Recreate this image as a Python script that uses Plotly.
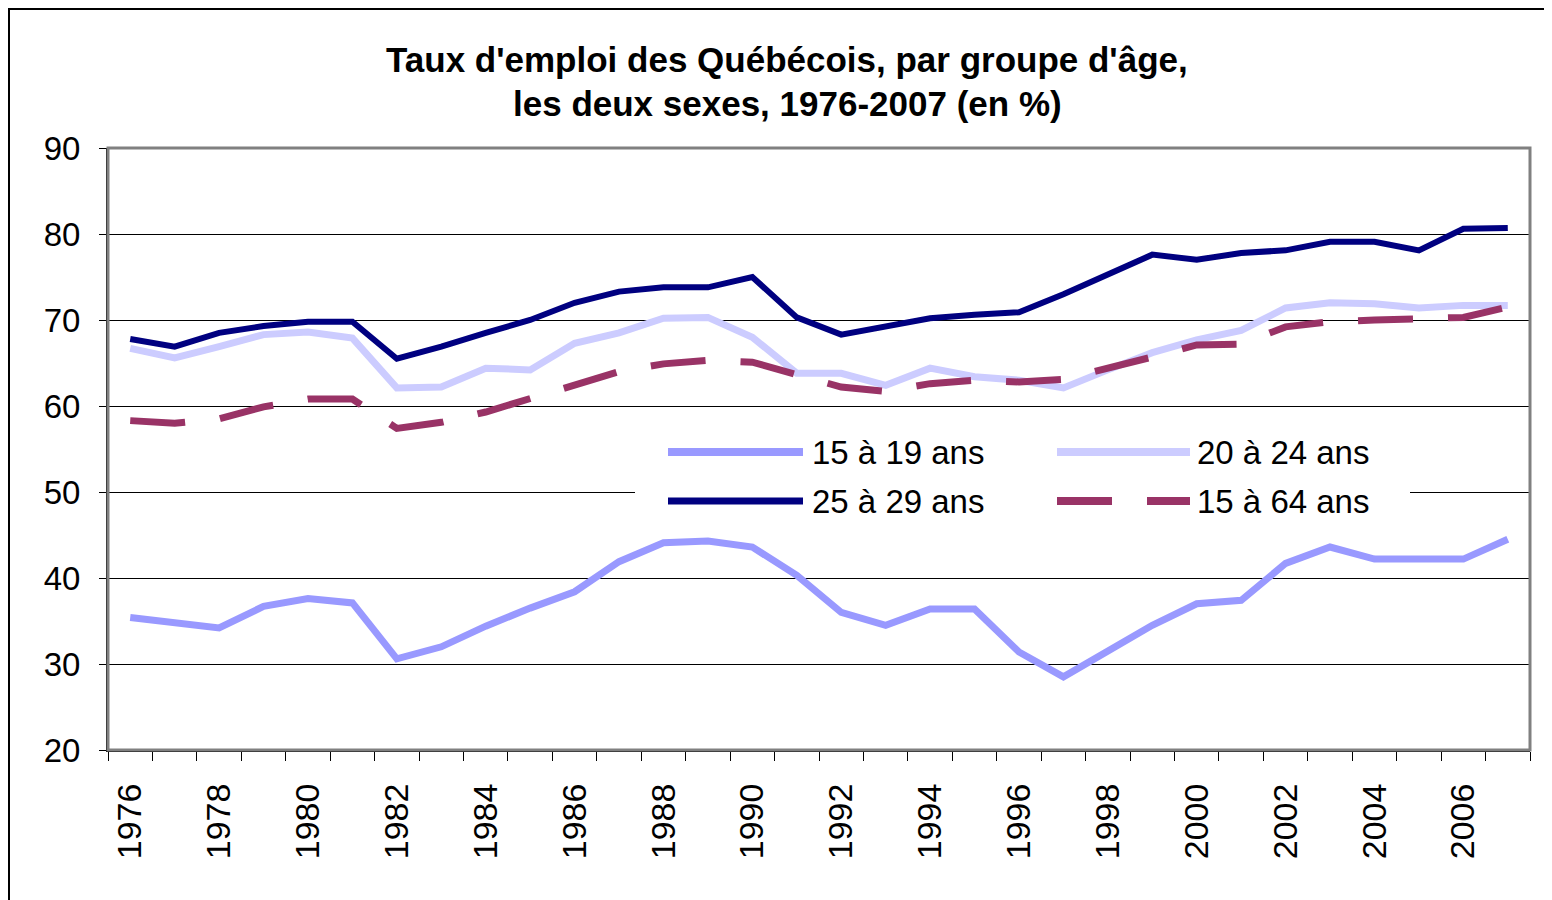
import plotly.graph_objects as go

years = list(range(1976, 2008))

age_15_19 = [35.4, 34.7, 34.2, 36.7, 37.6, 37.1, 30.6, 32.0, 34.4, 36.5, 38.4, 41.9,
             44.1, 44.3, 43.6, 40.3, 36.0, 34.5, 36.4, 36.4, 31.4, 28.5, 31.4, 34.5,
             37.0, 37.4, 41.7, 43.6, 42.2, 42.2, 42.2, 44.5]
age_20_24 = [66.7, 65.6, 66.9, 68.3, 68.6, 67.9, 62.1, 62.2, 64.4, 64.2, 67.3, 68.5,
             70.2, 70.3, 68.0, 63.8, 63.8, 62.4, 64.4, 63.4, 63.0, 62.1, 64.2, 66.2,
             67.7, 68.8, 71.4, 72.0, 71.9, 71.4, 71.7, 71.7]
age_25_29 = [67.8, 66.9, 68.5, 69.3, 69.8, 69.8, 65.5, 66.9, 68.5, 70.0, 72.0, 73.3,
             73.8, 73.8, 75.0, 70.3, 68.3, 69.2, 70.2, 70.6, 70.9, 73.0, 75.3, 77.6,
             77.0, 77.8, 78.1, 79.1, 79.1, 78.1, 80.6, 80.7]
age_15_64 = [58.3, 58.0, 58.5, 59.9, 60.8, 60.8, 57.4, 58.1, 59.3, 60.9, 62.4, 64.0,
             64.9, 65.3, 65.1, 63.6, 62.2, 61.7, 62.6, 63.0, 62.8, 63.1, 64.3, 65.7,
             67.1, 67.2, 69.2, 69.8, 70.0, 70.1, 70.3, 71.5]

series_names = ["15 à 19 ans", "20 à 24 ans", "25 à 29 ans", "15 à 64 ans"]
series_colors = ["#9999FF", "#CCCCFF", "#000080", "#993366"]
year_labels = [str(y) for y in range(1976, 2008, 2)]

title_lines = ["Taux d'emploi des Québécois, par groupe d'âge,",
               "les deux sexes, 1976-2007 (en %)"]

OFF = 8  # page body margin
W, H = 1552 - OFF, 900 - OFF
L, R, T, B = 108 - OFF, 1530 - OFF, 148 - OFF, 750 - OFF


def px(x):
    return (x - OFF - L) / (R - L)


def py(y):
    return (B - (y - OFF)) / (B - T)


FONT = "Liberation Sans, Arial, sans-serif"

fig = go.Figure()
data = [age_15_19, age_20_24, age_25_29, age_15_64]
widths = [7, 7, 6, 7]
dashes = ["solid", "solid", "solid", "55px,35px"]
for name, vals, col, w, d in zip(series_names, data, series_colors, widths, dashes):
    fig.add_trace(go.Scatter(
        x=years, y=vals, mode="lines", name=name,
        line=dict(color=col, width=w, dash=d),
        showlegend=False, hoverinfo="x+y+name"))

shapes = []
# outer chart frame (left and top visible)
shapes.append(dict(type="rect", xref="paper", yref="paper",
                   x0=px(9), x1=px(1570), y0=py(915), y1=py(9),
                   line=dict(color="black", width=2), fillcolor="rgba(0,0,0,0)",
                   layer="below"))
# plot area border (gray)
shapes.append(dict(type="rect", xref="paper", yref="paper",
                   x0=0, x1=1, y0=0, y1=1,
                   line=dict(color="#808080", width=3), fillcolor="rgba(0,0,0,0)",
                   layer="above"))
# legend background
shapes.append(dict(type="rect", xref="paper", yref="paper",
                   x0=px(635), x1=px(1410), y0=py(530), y1=py(422),
                   line=dict(width=0), fillcolor="white", layer="above"))

annotations = []
leg_pos = [(668, 803, 452, 810), (1057, 1190, 452, 1195),
           (668, 803, 501, 810), (1057, 1190, 501, 1195)]
for (x0, x1, yy, tx), name, col, w, d in zip(leg_pos, series_names, series_colors, widths, dashes):
    shapes.append(dict(type="line", xref="paper", yref="paper",
                       x0=px(x0), x1=px(x1), y0=py(yy), y1=py(yy),
                       line=dict(color=col, width=w + 1, dash=d), layer="above"))
    annotations.append(dict(text=name, xref="paper", yref="paper",
                            x=px(tx), y=py(yy), xanchor="left", yanchor="middle",
                            showarrow=False,
                            font=dict(family=FONT, size=33, color="black")))

for txt, yy in zip(title_lines, [59, 104]):
    annotations.append(dict(text="<b>" + txt + "</b>", xref="paper", yref="paper",
                            x=px(787), y=py(yy), xanchor="center", yanchor="middle",
                            showarrow=False,
                            font=dict(family=FONT, size=35, color="black")))

fig.update_layout(
    width=W, height=H,
    margin=dict(l=L, r=W - R, t=T, b=H - B, pad=0),
    paper_bgcolor="white", plot_bgcolor="white",
    template="none",
    showlegend=False,
    shapes=shapes, annotations=annotations,
    xaxis=dict(
        range=[1975.5, 2007.5], tickmode="array",
        tickvals=list(range(1976, 2008, 2)), ticktext=year_labels,
        ticks="", tickangle=-90, ticklabelstandoff=18,
        tickfont=dict(family=FONT, size=34, color="black"),
        showgrid=False, zeroline=False,
        showline=True, linecolor="black", linewidth=2,
        minor=dict(ticks="outside", tick0=1975.5, dtick=1, ticklen=9,
                   tickcolor="black", tickwidth=1, showgrid=False),
        automargin=False, fixedrange=True),
    yaxis=dict(
        range=[20, 90], tickmode="linear", tick0=20, dtick=10,
        ticks="outside", ticklen=7, tickcolor="black", tickwidth=1,
        ticklabelstandoff=12,
        tickfont=dict(family=FONT, size=33, color="black"),
        showgrid=True, gridcolor="black", gridwidth=1,
        zeroline=False,
        showline=True, linecolor="black", linewidth=2,
        automargin=False, fixedrange=True),
)

fig.write_html("out.html")
